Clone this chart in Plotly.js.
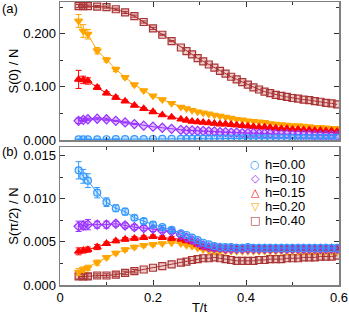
<!DOCTYPE html>
<html>
<head>
<meta charset="utf-8">
<script src="https://cdn.plot.ly/plotly-3.0.1.min.js"></script>
<style>html,body{margin:0;padding:0;background:#fff;}#chart{width:349px;height:315px;}</style>
</head>
<body>
<div id="chart"></div>
<script>
// ---- data ----
const T = [0.04,0.05,0.06,0.08,0.10,0.12,0.14,0.16,0.18,0.20,0.22,0.24,
  0.26,0.272,0.284,0.296,0.308,0.32,0.332,0.344,0.356,0.368,0.38,0.392,0.404,0.416,0.428,0.44,
  0.452,0.464,0.476,0.488,0.50,0.512,0.524,0.536,0.548,0.56,0.572,0.584,0.596];

const seriesLabels = ["h=0.00","h=0.10","h=0.15","h=0.20","h=0.40"];

// S(0)/N  (panel a)
const S0_h000 = [0.0012,0.0012,0.0013,0.0013,0.0014,0.0015,0.0016,0.0017,0.0018,0.0019,0.0020,0.0021,
  0.0022,0.0023,0.0023,0.0024,0.0025,0.0025,0.0026,0.0027,0.0027,0.0028,
  0.0029,0.0029,0.0030,0.0031,0.0031,0.0032,0.0033,0.0033,0.0034,0.0035,
  0.0035,0.0036,0.0037,0.0037,0.0038,0.0039,0.0039,0.0040,0.0041];
const S0_h010 = [0.036,0.038,0.039,0.040,0.039,0.036,0.033,0.030,0.027,0.025,0.023,0.021,
  0.019,0.018,0.018,0.017,0.017,0.016,0.016,0.015,0.015,0.014,
  0.014,0.013,0.013,0.013,0.012,0.012,0.012,0.011,0.011,0.011,
  0.010,0.010,0.010,0.010,0.009,0.009,0.009,0.009,0.008];
const S0_h015 = [0.114,0.113,0.111,0.099,0.088,0.080,0.073,0.065,0.059,0.053,0.047,0.043,
  0.039,0.037,0.035,0.034,0.033,0.032,0.031,0.030,0.030,0.029,
  0.028,0.027,0.026,0.025,0.024,0.024,0.023,0.022,0.021,0.021,
  0.020,0.020,0.019,0.019,0.018,0.018,0.017,0.017,0.016];
const S0_h020 = [0.224,0.205,0.199,0.168,0.151,0.133,0.118,0.104,0.093,0.083,0.076,0.069,
  0.062,0.059,0.056,0.053,0.051,0.049,0.047,0.045,0.043,0.041,
  0.039,0.038,0.036,0.035,0.034,0.033,0.031,0.030,0.029,0.028,
  0.027,0.027,0.026,0.025,0.024,0.024,0.023,0.022,0.022];
const S0_h040 = [0.252,0.252,0.252,0.251,0.250,0.246,0.240,0.233,0.222,0.210,0.198,0.186,
  0.174,0.167,0.161,0.154,0.148,0.142,0.136,0.130,0.125,0.119,
  0.114,0.109,0.104,0.099,0.095,0.091,0.088,0.085,0.083,0.081,
  0.079,0.078,0.076,0.075,0.073,0.072,0.070,0.069,0.067];

// error bars (first points only)
const E0_h000 = [0.0006,0.0005,0.0005,0.0004,0.0003,0.0003];
const E0_h010 = [0.005,0.003,0.002,0.002,0.002,0.001,0.001,0.001];
const E0_h015 = [0.017,0.007,0.006,0.004,0.003,0.003,0.002,0.002,0.002,0.002,0.001,0.001];
const E0_h020 = [0.012,0.012,0.009,0.006,0.004,0.004,0.003,0.003,0.002,0.002,0.002,0.002];
const E0_h040 = [0.003,0.003,0.002,0.002,0.002,0.002,0.002,0.002,0.002,0.002,0.001,0.001];

// S(pi/2)/N  (panel b)
const SP_h000 = [0.0133,0.0126,0.0121,0.0107,0.0096,0.0089,0.0085,0.0078,0.0074,0.0070,0.0067,0.0064,
  0.0060,0.0058,0.0055,0.0052,0.0049,0.0047,0.0045,0.0044,0.0044,0.0044,
  0.0043,0.0043,0.0044,0.0043,0.0043,0.0043,0.0043,0.0043,0.0043,0.0043,
  0.0043,0.0043,0.0043,0.0043,0.0043,0.0043,0.0043,0.0043,0.0043];
const SP_h010 = [0.0068,0.0069,0.0070,0.0070,0.0070,0.0071,0.0069,0.0067,0.0066,0.0065,0.0063,0.0062,
  0.0058,0.0055,0.0052,0.0049,0.0046,0.0044,0.0043,0.0043,0.0042,0.0042,
  0.0042,0.0042,0.0042,0.0042,0.0042,0.0042,0.0042,0.0042,0.0042,0.0042,
  0.0042,0.0042,0.0042,0.0042,0.0042,0.0042,0.0042,0.0042,0.0042];
const SP_h015 = [0.0039,0.0040,0.0041,0.0044,0.0048,0.0051,0.0053,0.0054,0.0055,0.0056,0.0055,0.0054,
  0.0053,0.0051,0.0050,0.0047,0.0044,0.0043,0.0042,0.0042,0.0042,0.0042,
  0.0042,0.0042,0.0042,0.0042,0.0042,0.0042,0.0042,0.0042,0.0042,0.0042,
  0.0042,0.0042,0.0042,0.0042,0.0042,0.0042,0.0042,0.0042,0.0042];
const SP_h020 = [0.0015,0.0018,0.0020,0.0026,0.0032,0.0037,0.0041,0.0044,0.0046,0.0047,0.0048,0.0049,
  0.0048,0.0046,0.0045,0.0043,0.0041,0.0040,0.0039,0.0039,0.0039,0.0039,
  0.0039,0.0039,0.0039,0.0039,0.0039,0.0039,0.0039,0.0039,0.0039,0.0039,
  0.0039,0.0039,0.0039,0.0039,0.0039,0.0039,0.0039,0.0039,0.0039];
const SP_h040 = [0.0010,0.0010,0.0010,0.0011,0.0011,0.0012,0.0014,0.0016,0.0018,0.0020,0.0022,0.0024,
  0.0026,0.0027,0.0029,0.0030,0.0031,0.0031,0.0032,0.0031,0.0030,0.0029,
  0.0028,0.0028,0.0028,0.0028,0.0029,0.0029,0.0030,0.0030,0.0030,0.0031,
  0.0031,0.0031,0.0032,0.0032,0.0032,0.0033,0.0033,0.0033,0.0034];

const EP_h000 = [0.0010,0.0008,0.0008,0.0006,0.0005,0.0004,0.0004,0.0003,0.0003,0.0003,0.0002,0.0002];
const EP_h010 = [0.0006,0.0005,0.0006,0.0004,0.0004,0.0003,0.0003,0.0003,0.0003,0.0003,0.0002,0.0002];
const EP_h015 = [0.0004,0.0003,0.0003,0.0003,0.0002,0.0002,0.0002,0.0002,0.0002,0.0002,0.0002,0.0002];
const EP_h020 = [0.0004,0.0003,0.0003,0.0003,0.0002,0.0002,0.0002,0.0002,0.0002,0.0002];
const EP_h040 = [0.0003,0.0003,0.0003,0.0002,0.0002,0.0002,0.0002,0.0002];

// ---- styles ----
const styles = [
  {color:'#3399ff', fill:'rgba(51,153,255,0.25)', symbol:'circle', glyph:'○'},
  {color:'#9933ff', fill:'rgba(153,51,255,0.30)', symbol:'diamond', glyph:'◇'},
  {color:'#ff0000', fill:'#ff0000', symbol:'triangle-up', glyph:'△'},
  {color:'#ffa500', fill:'#ffa500', symbol:'triangle-down', glyph:'▽'},
  {color:'#aa3333', fill:'rgba(170,51,51,0.25)', symbol:'square', glyph:'□'}
];
const topY = [S0_h000,S0_h010,S0_h015,S0_h020,S0_h040];
const topE = [E0_h000,E0_h010,E0_h015,E0_h020,E0_h040];
const botY = [SP_h000,SP_h010,SP_h015,SP_h020,SP_h040];
const botE = [EP_h000,EP_h010,EP_h015,EP_h020,EP_h040];

function mk(i, y, e, xa, ya){
  const s = styles[i];
  return {
    x: T, y: y, xaxis: xa, yaxis: ya, type:'scatter', mode:'lines+markers',
    name: seriesLabels[i], showlegend:false,
    line:{color:s.color, width:1},
    marker:{symbol:s.symbol, size:7, color:s.fill, line:{color:s.color, width:1.2}},
    error_y:{type:'data', array:e, visible:true, color:s.color, thickness:1, width:3}
  };
}
const order = [4,3,2,1,0];
const data = [];
order.forEach(i => data.push(mk(i, topY[i], topE[i], 'x2', 'y2')));
order.forEach(i => data.push(mk(i, botY[i], botE[i], 'x', 'y')));

// ---- layout ----
const L = 60, R = 10, TOP = 2, B = 30, W = 349, H = 315;
const pw = W - L - R, ph = H - TOP - B;
const px2x = p => (p - L) / pw;
const py2y = p => (H - B - p) / ph;

const fontFam = 'Liberation Sans, Arial, sans-serif';
const axisCommon = {
  showline:true, mirror:'ticks', linecolor:'#808080', linewidth:1.5,
  ticks:'inside', ticklen:5, tickcolor:'#333', tickwidth:1,
  showgrid:false, zeroline:false,
  tickfont:{family:fontFam, size:13, color:'#000'}
};

const annotations = [
  {text:'(a)', x:px2x(10), y:py2y(9), xref:'paper', yref:'paper', showarrow:false, xanchor:'center', yanchor:'middle', font:{family:fontFam,size:13,color:'#000'}},
  {text:'(b)', x:px2x(10), y:py2y(151), xref:'paper', yref:'paper', showarrow:false, xanchor:'center', yanchor:'middle', font:{family:fontFam,size:13,color:'#000'}}
];
const legRows = [164,178,192,206,220];
seriesLabels.forEach((lab, i) => {
  annotations.push({text:styles[i].glyph, x:px2x(255), y:py2y(legRows[i]), xref:'paper', yref:'paper', showarrow:false,
    xanchor:'center', yanchor:'middle', font:{family:'DejaVu Sans', size:11, color:styles[i].color}});
  annotations.push({text:lab, x:px2x(263), y:py2y(legRows[i]), xref:'paper', yref:'paper', showarrow:false,
    xanchor:'left', yanchor:'middle', font:{family:fontFam, size:13, color:'#000'}});
});

const layout = {
  width:W, height:H, margin:{l:L, r:R, t:TOP, b:B, pad:0},
  paper_bgcolor:'#fff', plot_bgcolor:'#fff',
  showlegend:false,
  font:{family:fontFam, size:13, color:'#000'},
  xaxis: Object.assign({}, axisCommon, {
    domain:[0,1], anchor:'y', range:[0,0.6], tick0:0, dtick:0.2,
    minor:{dtick:0.1, ticks:'inside', ticklen:3, tickcolor:'#333'},
    title:{text:'T/t', font:{family:fontFam,size:13,color:'#000'}, standoff:4}
  }),
  xaxis2: Object.assign({}, axisCommon, {
    domain:[0,1], anchor:'y2', range:[0,0.6], tick0:0, dtick:0.2, matches:'x',
    minor:{dtick:0.1, ticks:'inside', ticklen:3, tickcolor:'#333'},
    showticklabels:false
  }),
  yaxis: Object.assign({}, axisCommon, {
    domain:[0, 138/ph], anchor:'x', range:[0,0.016], tick0:0, dtick:0.005, tickformat:'.3f',
    minor:{dtick:0.0025, ticks:'inside', ticklen:3, tickcolor:'#333'},
    title:{text:'S(π/2) / N', font:{family:fontFam,size:13,color:'#000'}}
  }),
  yaxis2: Object.assign({}, axisCommon, {
    domain:[1-138/ph, 1], anchor:'x2', range:[0,0.2596], tick0:0, dtick:0.1, tickformat:'.3f',
    minor:{dtick:0.05, ticks:'inside', ticklen:3, tickcolor:'#333'},
    title:{text:'S(0) / N', font:{family:fontFam,size:13,color:'#000'}}
  }),
  annotations: annotations
};

Plotly.newPlot('chart', data, layout, {staticPlot:true, displayModeBar:false});
</script>
</body>
</html>
